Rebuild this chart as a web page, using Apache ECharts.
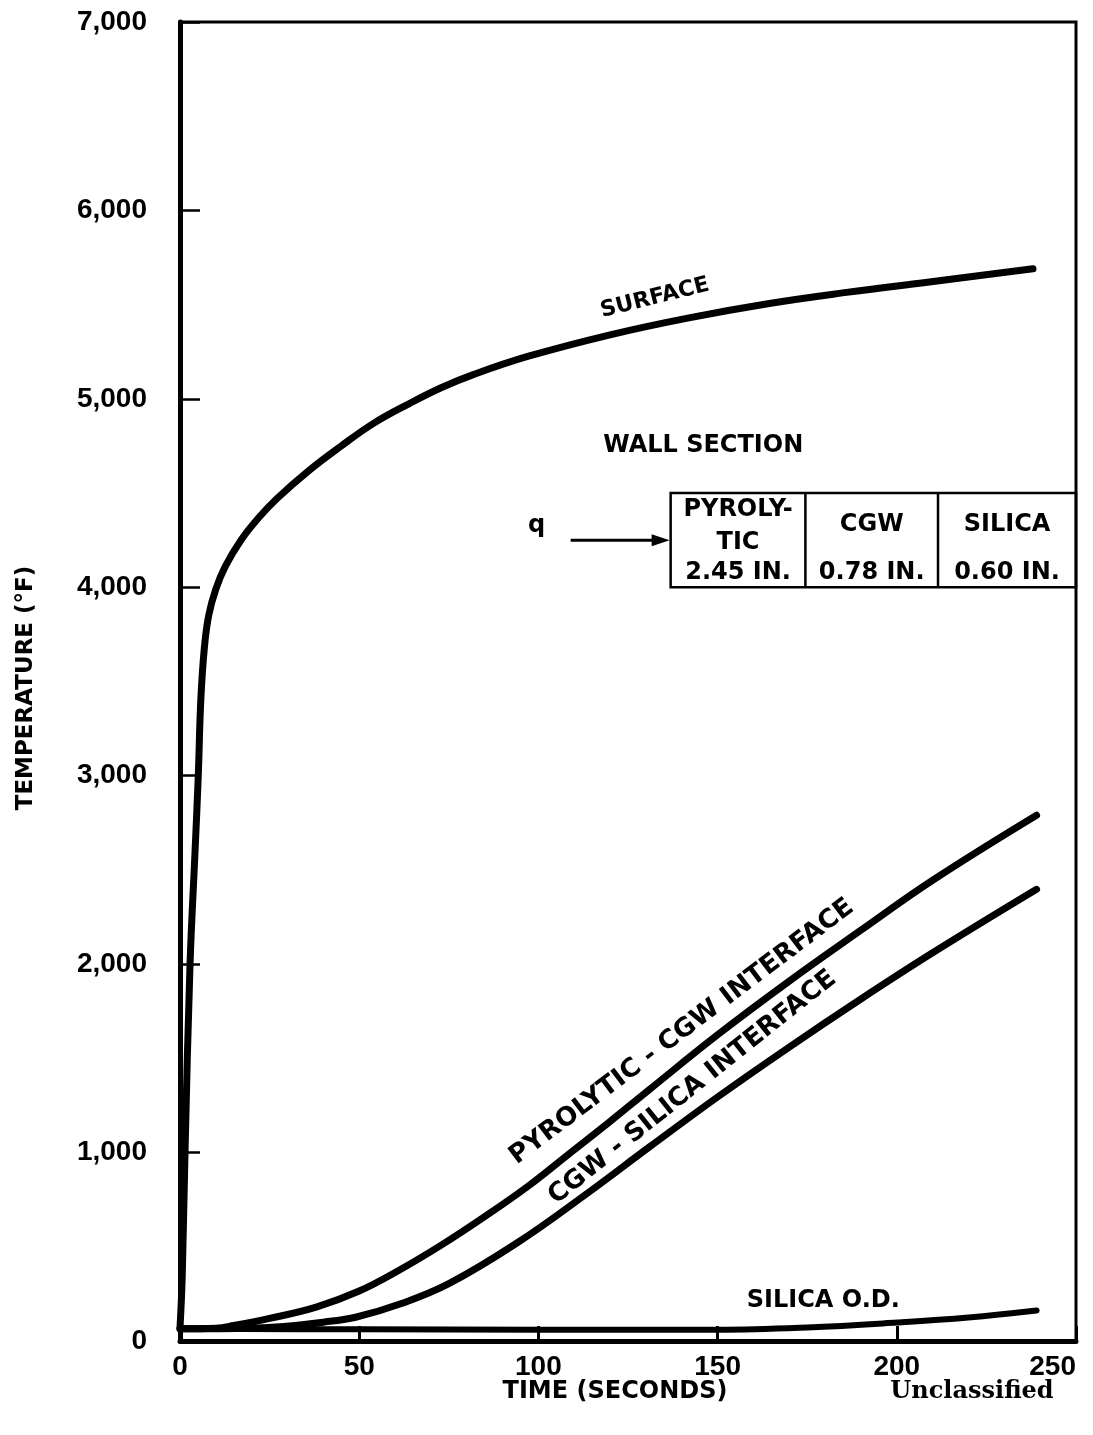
<!DOCTYPE html>
<html><head><meta charset="utf-8">
<style>html,body{margin:0;padding:0;background:#fff}#c{width:1093px;height:1435px}</style>
<script src="https://cdn.jsdelivr.net/npm/echarts@6/dist/echarts.min.js"></script>
</head><body><div id="c"></div>
<script>
// ---- data ----
const yTickLabels = ['0', '1,000', '2,000', '3,000', '4,000', '5,000', '6,000', '7,000'];
const xTickLabels = ['0', '50', '100', '150', '200', '250'];

const surfaceTime = [0, 0.6, 1.4, 2.8, 4.2, 5.1, 5.8, 6.8, 8, 10, 12.6, 17, 22, 27, 36, 45, 54, 64, 73, 82, 97, 120, 142, 164, 186, 208, 238];
const surfaceTemp = [70, 330, 1000, 2000, 2600, 3000, 3400, 3680, 3850, 3990, 4110, 4250, 4370, 4470, 4620, 4750, 4870, 4975, 5060, 5130, 5225, 5340, 5430, 5505, 5565, 5618, 5690];

const pyroTime = [0, 10, 15, 25, 38, 50, 61, 73, 85, 97, 108, 120, 131, 150, 170, 190, 210, 239];
const pyroTemp = [65, 68, 82, 120, 180, 265, 374, 510, 660, 820, 985, 1165, 1335, 1625, 1910, 2180, 2445, 2790];

const cgwTime = [0, 20, 29, 40, 49, 62, 75, 94, 113, 131, 150, 170, 190, 210, 239];
const cgwTemp = [65, 68, 77, 100, 126, 200, 304, 520, 775, 1030, 1295, 1560, 1815, 2060, 2397];

const silicaTime = [0, 50, 100, 150, 175, 200, 220, 239];
const silicaTemp = [65, 62, 60, 60, 72, 98, 125, 162];

const seriesNames = ['SURFACE', 'PYROLYTIC - CGW INTERFACE', 'CGW - SILICA INTERFACE', 'SILICA O.D.'];

// ---- chart ----
const FONT = "'Liberation Sans', Arial, sans-serif";
const WIDE = "'DejaVu Sans', 'Liberation Sans', sans-serif";
const zip = (a, b) => a.map((v, i) => [v, b[i]]);
const lineStyle = { color: '#000', width: 7, cap: 'round', join: 'round' };

const chart = echarts.init(document.getElementById('c'), null, { renderer: 'canvas' });
chart.setOption({
  backgroundColor: '#fff',
  animation: false,
  grid: { left: 180, right: 17, top: 22, bottom: 94, show: true, borderColor: '#000', borderWidth: 3 },
  xAxis: {
    type: 'value', min: 0, max: 250, interval: 50,
    axisLine: { show: true, lineStyle: { color: '#000', width: 5 } },
    axisTick: { show: true, inside: true, length: 15, lineStyle: { color: '#000', width: 3 } },
    axisLabel: {
      color: '#000', fontFamily: FONT, fontWeight: 'bold', fontSize: 28, margin: 12,
      alignMaxLabel: 'right',
      formatter: v => xTickLabels[Math.round(v / 50)]
    },
    splitLine: { show: false }
  },
  yAxis: {
    type: 'value', min: 0, max: 7000, interval: 1000,
    axisLine: { show: true, lineStyle: { color: '#000', width: 5 } },
    axisTick: { show: true, inside: true, length: 20, lineStyle: { color: '#000', width: 2.5 } },
    axisLabel: {
      color: '#000', fontFamily: FONT, fontWeight: 'bold', fontSize: 28, margin: 33,
      formatter: v => yTickLabels[Math.round(v / 1000)]
    },
    splitLine: { show: false }
  },
  series: [
    { name: seriesNames[0], type: 'line', data: zip(surfaceTime, surfaceTemp), smooth: 0.4, showSymbol: false, lineStyle },
    { name: seriesNames[1], type: 'line', data: zip(pyroTime, pyroTemp), smooth: 0.4, showSymbol: false, lineStyle },
    { name: seriesNames[2], type: 'line', data: zip(cgwTime, cgwTemp), smooth: 0.4, showSymbol: false, lineStyle },
    { name: seriesNames[3], type: 'line', data: zip(silicaTime, silicaTemp), smooth: 0.4, showSymbol: false, lineStyle: Object.assign({}, lineStyle, { width: 6 }) }
  ]
});

const px = (t, v) => chart.convertToPixel({ gridIndex: 0 }, [t, v]);
const deg = d => d * Math.PI / 180;
function label(text, p, rotDeg, size, family) {
  return {
    type: 'text', x: p[0], y: p[1], rotation: deg(rotDeg || 0), silent: true,
    style: { text, x: 0, y: 0, align: 'center', verticalAlign: 'middle', fill: '#000',
      font: 'bold ' + size + 'px ' + (family || WIDE) }
  };
}

// wall section table
const boxTL = px(136.9, 4500), boxBR = px(250, 4000);
const c1 = px(174.5, 0)[0], c2 = px(211.5, 0)[0];
const boxTop = boxTL[1], boxBot = boxBR[1];
const colMid = [(boxTL[0] + c1) / 2, (c1 + c2) / 2, (c2 + boxBR[0]) / 2];
const arrowY = px(0, 4250)[1];
const arrowStart = px(109, 0)[0], arrowEnd = boxTL[0] - 1;

const graphics = [
  { type: 'rect', silent: true, shape: { x: boxTL[0], y: boxTop, width: boxBR[0] - boxTL[0], height: boxBot - boxTop },
    style: { fill: 'none', stroke: '#000', lineWidth: 2.5 } },
  { type: 'line', silent: true, shape: { x1: c1, y1: boxTop, x2: c1, y2: boxBot }, style: { stroke: '#000', lineWidth: 2.5 } },
  { type: 'line', silent: true, shape: { x1: c2, y1: boxTop, x2: c2, y2: boxBot }, style: { stroke: '#000', lineWidth: 2.5 } },
  label('PYROLY-', [colMid[0], boxTop + 17], 0, 24),
  label('TIC', [colMid[0], boxTop + 50], 0, 24),
  label('2.45 IN.', [colMid[0], boxTop + 80], 0, 24),
  label('CGW', [colMid[1], boxTop + 32], 0, 24),
  label('0.78 IN.', [colMid[1], boxTop + 80], 0, 24),
  label('SILICA', [colMid[2], boxTop + 32], 0, 24),
  label('0.60 IN.', [colMid[2], boxTop + 80], 0, 24),
  label('WALL SECTION', px(146, 4753), 0, 24),
  label('q', [arrowStart - 34, arrowY - 14], 0, 24),
  { type: 'line', silent: true, shape: { x1: arrowStart, y1: arrowY, x2: arrowEnd - 14, y2: arrowY }, style: { stroke: '#000', lineWidth: 3 } },
  { type: 'polygon', silent: true, shape: { points: [[arrowEnd, arrowY], [arrowEnd - 18, arrowY - 6], [arrowEnd - 18, arrowY + 6]] }, style: { fill: '#000' } },
  label('SURFACE', px(132.5, 5535), 14, 22),
  label('PYROLYTIC - CGW INTERFACE', px(140, 1640), 37, 26),
  label('CGW - SILICA INTERFACE', px(143, 1345), 38.5, 26),
  label('SILICA O.D.', px(179.5, 215), 0, 24),
  label('TEMPERATURE (°F)', [26, 688], 90, 23),
  label('TIME (SECONDS)', [615, 1392], 0, 24),
  label('Unclassified', [972, 1392], 0, 24, "'DejaVu Serif', 'Liberation Serif', serif")
];
chart.setOption({ graphic: graphics });
</script>
</body></html>
